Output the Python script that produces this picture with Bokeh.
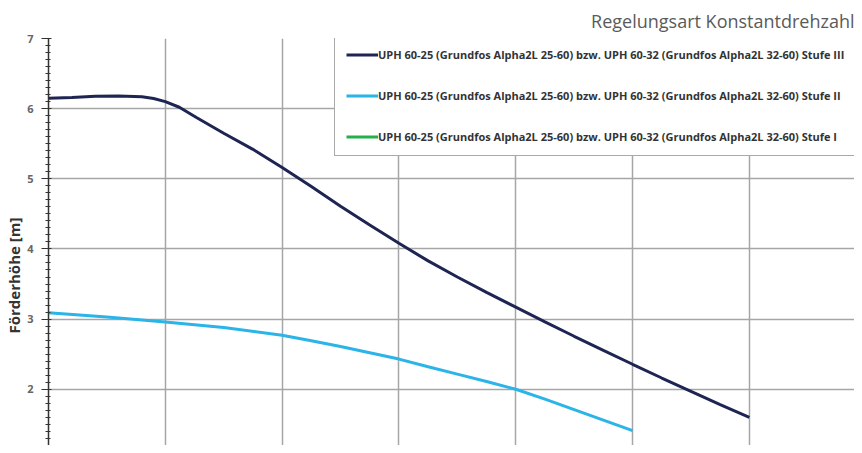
from bokeh.plotting import figure
from bokeh.models import Range1d, Legend, LegendItem, Title, SingleIntervalTicker
from bokeh.embed import file_html
from bokeh.resources import INLINE

# ---- data (flow Q in m³/h, head H in m) ----
q_stufe3 = [0.0, 0.1, 0.2, 0.3, 0.4, 0.45, 0.5, 0.56, 0.635, 0.75, 0.875, 1.0, 1.125, 1.25,
            1.375, 1.5, 1.625, 1.75, 1.875, 2.0, 2.125, 2.25, 2.375, 2.5, 2.625, 2.75,
            2.875, 3.0]
h_stufe3 = [6.15, 6.16, 6.175, 6.18, 6.17, 6.145, 6.10, 6.02, 5.87, 5.65, 5.42, 5.16, 4.89,
            4.61, 4.34, 4.08, 3.83, 3.60, 3.38, 3.17, 2.96, 2.755, 2.555, 2.356, 2.16, 1.97,
            1.78, 1.60]

q_stufe2 = [0.0, 0.25, 0.5, 0.75, 1.0, 1.125, 1.25, 1.375, 1.5, 1.625, 1.75, 1.875, 2.0,
            2.125, 2.25, 2.375, 2.5]
h_stufe2 = [3.09, 3.03, 2.96, 2.88, 2.77, 2.69, 2.61, 2.52, 2.43, 2.32, 2.215, 2.11, 2.00,
            1.86, 1.71, 1.56, 1.41]

q_stufe1 = [0.0, 0.25, 0.5, 1.0, 1.5]
h_stufe1 = [1.10, 1.04, 0.96, 0.75, 0.45]

labels = [
    "UPH 60-25 (Grundfos Alpha2L 25-60) bzw. UPH 60-32 (Grundfos Alpha2L 32-60) Stufe III",
    "UPH 60-25 (Grundfos Alpha2L 25-60) bzw. UPH 60-32 (Grundfos Alpha2L 32-60) Stufe II",
    "UPH 60-25 (Grundfos Alpha2L 25-60) bzw. UPH 60-32 (Grundfos Alpha2L 32-60) Stufe I",
]
colors = ["#1e2552", "#2ab4e8", "#22b04b"]
title_text = "Regelungsart Konstantdrehzahl"
y_label = "Förderhöhe [m]"

p = figure(width=854, height=445, output_backend="svg", toolbar_location=None,
           x_range=Range1d(0, 3.450), y_range=Range1d(1.198, 7.0),
           x_axis_location=None,
           min_border_left=48, min_border_right=0, min_border_top=37, min_border_bottom=0,
           background_fill_color="white", border_fill_color="white")
p.outline_line_color = None

p.title.text = title_text
p.title.align = "right"
p.title.text_font = "Open Sans"
p.title.text_font_size = "18px"
p.title.text_font_style = "normal"
p.title.text_color = "#5a5a5a"
p.title.standoff = 12

# grids
p.xgrid.ticker = SingleIntervalTicker(interval=0.5)
p.xgrid.grid_line_color = "#a6a6a6"
p.xgrid.grid_line_width = 1.5
p.ygrid.grid_line_color = "#a6a6a6"
p.ygrid.grid_line_width = 1.5

# y axis
p.yaxis.ticker = SingleIntervalTicker(interval=1, num_minor_ticks=10)
p.yaxis.axis_line_color = "#333333"
p.yaxis.axis_line_width = 1.5
p.yaxis.major_tick_out = 7
p.yaxis.major_tick_in = 3
p.yaxis.minor_tick_out = 3
p.yaxis.minor_tick_in = 2
p.yaxis.major_tick_line_color = "#333333"
p.yaxis.minor_tick_line_color = "#333333"
p.yaxis.major_label_standoff = 8
p.yaxis.major_label_text_font = "Open Sans"
p.yaxis.major_label_text_font_size = "11px"
p.yaxis.major_label_text_font_style = "bold"
p.yaxis.major_label_text_color = "#666666"

# y axis title, placed like the original (centred on the full 0..7 scale)
ytitle = Title(text=y_label, align="left", offset=112, standoff=2,
               text_font="Open Sans", text_font_size="15px", text_font_style="bold",
               text_color="#333333")
p.add_layout(ytitle, "left")

r3 = p.line(q_stufe3, h_stufe3, line_color=colors[0], line_width=3)
r2 = p.line(q_stufe2, h_stufe2, line_color=colors[1], line_width=3)
r1 = p.line(q_stufe1, h_stufe1, line_color=colors[2], line_width=3)

legend = Legend(items=[LegendItem(label=labels[0], renderers=[r3]),
                       LegendItem(label=labels[1], renderers=[r2]),
                       LegendItem(label=labels[2], renderers=[r1])],
                location=(286, 289))
legend.border_line_color = "#555555"
legend.border_line_width = 1
legend.background_fill_color = "white"
legend.background_fill_alpha = 1
legend.label_text_font = "Open Sans"
legend.label_text_font_size = "11px"
legend.label_text_font_style = "bold"
legend.label_text_color = "#333333"
legend.glyph_width = 32
legend.glyph_height = 15
legend.label_height = 15
legend.spacing = 26
legend.padding = 11
legend.label_standoff = 0
legend.margin = 0
p.add_layout(legend)

open("out.html", "w").write(file_html(p, INLINE))
